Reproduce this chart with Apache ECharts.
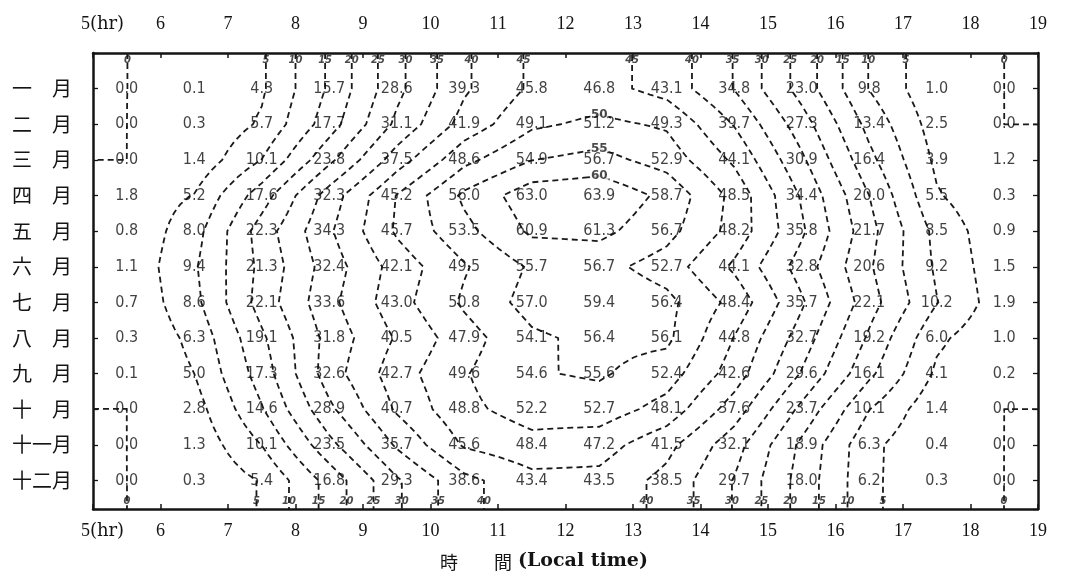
<!DOCTYPE html>
<html>
<head>
<meta charset="utf-8">
<script src="https://cdn.jsdelivr.net/npm/echarts@6/dist/echarts.min.js"></script>
<style>
html,body{margin:0;padding:0;background:#fff;}
#c{width:1075px;height:579px;}
</style>
</head>
<body>
<div id="c"></div>
<script>
// ---------------- data ----------------
const months = ['一\u3000月','二\u3000月','三\u3000月','四\u3000月','五\u3000月','六\u3000月',
                '七\u3000月','八\u3000月','九\u3000月','十\u3000月','十一月','十二月'];
const hourTicks = [5,6,7,8,9,10,11,12,13,14,15,16,17,18,19];
const hourMid = [5.5,6.5,7.5,8.5,9.5,10.5,11.5,12.5,13.5,14.5,15.5,16.5,17.5,18.5];
const m01 = [0.0,0.1,4.3,15.7,28.6,39.3,45.8,46.8,43.1,34.8,23.0,9.8,1.0,0.0];
const m02 = [0.0,0.3,5.7,17.7,31.1,41.9,49.1,51.2,49.3,39.7,27.3,13.4,2.5,0.0];
const m03 = [0.0,1.4,10.1,23.8,37.5,48.6,54.9,56.7,52.9,44.1,30.9,16.4,3.9,1.2];
const m04 = [1.8,5.2,17.6,32.3,45.2,56.0,63.0,63.9,58.7,48.5,34.4,20.0,5.5,0.3];
const m05 = [0.8,8.0,22.3,34.3,45.7,53.5,60.9,61.3,56.7,48.2,35.8,21.7,8.5,0.9];
const m06 = [1.1,9.4,21.3,32.4,42.1,49.5,55.7,56.7,52.7,44.1,32.8,20.6,9.2,1.5];
const m07 = [0.7,8.6,22.1,33.6,43.0,50.8,57.0,59.4,56.4,48.4,35.7,22.1,10.2,1.9];
const m08 = [0.3,6.3,19.1,31.8,40.5,47.9,54.1,56.4,56.1,44.8,32.7,19.2,6.0,1.0];
const m09 = [0.1,5.0,17.3,32.6,42.7,49.6,54.6,55.6,52.4,42.6,29.6,16.1,4.1,0.2];
const m10 = [0.0,2.8,14.6,28.9,40.7,48.8,52.2,52.7,48.1,37.6,23.7,10.1,1.4,0.0];
const m11 = [0.0,1.3,10.1,23.5,35.7,45.6,48.4,47.2,41.5,32.1,18.9,6.3,0.4,0.0];
const m12 = [0.0,0.3,5.4,16.8,29.3,38.6,43.4,43.5,38.5,29.7,18.0,6.2,0.3,0.0];
const contourLevels = [0,5,10,15,20,25,30,35,40,45,50,55,60];

// ---------------- derived ----------------
const rows = [m01,m02,m03,m04,m05,m06,m07,m08,m09,m10,m11,m12];
const Y_MIN = -1, Y_MAX = 11.8;   // y extent of plot (rows sit at 0..11)

// value labels
const valuePoints = [];
rows.forEach((row, i) => row.forEach((v, j) => valuePoints.push([hourMid[j], i, v])));

// padded grid (edge values carried to the frame)
const X = [hourTicks[0], ...hourMid, hourTicks[hourTicks.length - 1]];
const Y = [Y_MIN, ...rows.map((_, i) => i), Y_MAX];
const clamp = (v, a, b) => Math.min(Math.max(v, a), b);
const Z = Y.map((_, r) => X.map((_, c) => rows[clamp(r - 1, 0, rows.length - 1)][clamp(c - 1, 0, hourMid.length - 1)]));

// bilinear refinement for smoother contour paths
const S = 4;
function refine(A) {
  const out = [];
  for (let i = 0; i < A.length - 1; i++) for (let k = 0; k < S; k++) out.push(A[i] + (A[i + 1] - A[i]) * k / S);
  out.push(A[A.length - 1]);
  return out;
}
const FX = refine(X), FY = refine(Y);
const F = FY.map((_, R) => FX.map((_, C) => {
  const r = Math.min(Math.floor(R / S), Y.length - 2), c = Math.min(Math.floor(C / S), X.length - 2);
  const u = R / S - r, v = C / S - c;
  return Z[r][c] * (1 - u) * (1 - v) + Z[r][c + 1] * (1 - u) * v + Z[r + 1][c] * u * (1 - v) + Z[r + 1][c + 1] * u * v;
}));

function traceLevel(L) {
  const lv = L === 0 ? 0.001 : L;
  const pts = new Map(), nb = new Map();
  function ek(type, r, c) {
    const k = type + r + ',' + c;
    if (!pts.has(k)) {
      let a, b, xa, xb, ya, yb;
      if (type === 'h') { a = F[r][c]; b = F[r][c + 1]; xa = FX[c]; xb = FX[c + 1]; ya = yb = FY[r]; }
      else { a = F[r][c]; b = F[r + 1][c]; xa = xb = FX[c]; ya = FY[r]; yb = FY[r + 1]; }
      const t = (lv - a) / (b - a);
      pts.set(k, [xa + t * (xb - xa), ya + t * (yb - ya)]);
    }
    return k;
  }
  function link(a, b) {
    if (!nb.has(a)) nb.set(a, []);
    if (!nb.has(b)) nb.set(b, []);
    nb.get(a).push(b); nb.get(b).push(a);
  }
  for (let R = 0; R < FY.length - 1; R++) {
    for (let C = 0; C < FX.length - 1; C++) {
      const tl = F[R][C], tr = F[R][C + 1], br = F[R + 1][C + 1], bl = F[R + 1][C];
      const idx = (tl >= lv ? 8 : 0) | (tr >= lv ? 4 : 0) | (br >= lv ? 2 : 0) | (bl >= lv ? 1 : 0);
      if (idx === 0 || idx === 15) continue;
      const T = () => ek('h', R, C), B = () => ek('h', R + 1, C), Lf = () => ek('v', R, C), Rt = () => ek('v', R, C + 1);
      const center = (tl + tr + br + bl) / 4 >= lv;
      switch (idx) {
        case 1: case 14: link(Lf(), B()); break;
        case 2: case 13: link(B(), Rt()); break;
        case 3: case 12: link(Lf(), Rt()); break;
        case 4: case 11: link(T(), Rt()); break;
        case 6: case 9: link(T(), B()); break;
        case 7: case 8: link(Lf(), T()); break;
        case 5:
          if (center) { link(Lf(), T()); link(B(), Rt()); } else { link(Lf(), B()); link(T(), Rt()); }
          break;
        case 10:
          if (center) { link(T(), Rt()); link(Lf(), B()); } else { link(Lf(), T()); link(B(), Rt()); }
          break;
      }
    }
  }
  const seen = new Set(), out = [];
  function walk(start) {
    const path = [start]; seen.add(start); let cur = start;
    while (true) {
      const ns = nb.get(cur).filter(k => !seen.has(k));
      if (!ns.length) break;
      cur = ns[0]; seen.add(cur); path.push(cur);
    }
    return path.map(k => pts.get(k));
  }
  for (const [k, list] of nb) if (list.length === 1 && !seen.has(k)) out.push({ pts: walk(k), closed: false, level: L });
  for (const [k] of nb) if (!seen.has(k)) { const p = walk(k); p.push(p[0]); out.push({ pts: p, closed: true, level: L }); }
  return out;
}

const contourLines = [];
const topLabels = [], bottomLabels = [], loopLabels = [];
contourLevels.forEach(L => {
  traceLevel(L).forEach(pl => {
    contourLines.push({ coords: pl.pts });
    if (pl.closed) {
      let best = pl.pts[0];
      pl.pts.forEach(p => { if (p[1] < best[1]) best = p; });
      loopLabels.push([best[0], best[1], L]);
    } else {
      [pl.pts[0], pl.pts[pl.pts.length - 1]].forEach(p => {
        if (Math.abs(p[1] - Y_MIN) < 1e-6) topLabels.push([p[0], p[1], L]);
        else if (Math.abs(p[1] - Y_MAX) < 1e-6) bottomLabels.push([p[0], p[1], L]);
      });
    }
  });
});

// ---------------- chart ----------------
const ink = '#141414';
const xLabelFmt = v => v === hourTicks[0] ? '{a|' + v + '}{b|(hr)}' : String(v);
const xRich = {
  a: { fontFamily: 'Liberation Serif', fontSize: 18, color: ink, padding: [0, 0, 0, 19] },
  b: { fontFamily: 'DejaVu Serif', fontSize: 18, color: ink }
};
function xAxisCfg(pos, margin) {
  return {
    type: 'value', min: hourTicks[0], max: hourTicks[hourTicks.length - 1], interval: 1, position: pos,
    axisLine: { show: true, onZero: false, lineStyle: { color: ink, width: 2.5 } },
    axisTick: { show: true, inside: true, length: 5, lineStyle: { color: ink, width: 1.5 } },
    axisLabel: { show: true, margin: margin, formatter: xLabelFmt, rich: xRich,
                 fontFamily: 'Liberation Serif', fontSize: 18, color: ink },
    splitLine: { show: false }
  };
}
function yAxisCfg(pos, showLabel) {
  return {
    type: 'value', inverse: true, min: Y_MIN, max: Y_MAX, interval: 1, position: pos,
    axisLine: { show: true, onZero: false, lineStyle: { color: ink, width: 2.5 } },
    axisTick: { show: true, inside: true, length: 5, lineStyle: { color: ink, width: 1.3 } },
    axisLabel: {
      show: showLabel, margin: 21, fontFamily: 'Noto Sans CJK JP', fontSize: 20, color: ink,
      formatter: v => { const i = Math.round(v); return (Math.abs(v - i) < 1e-6 && i >= 0 && i < months.length) ? months[i] : ''; }
    },
    splitLine: { show: false }
  };
}

const chart = echarts.init(document.getElementById('c'), null, { renderer: 'canvas' });
chart.setOption({
  backgroundColor: '#ffffff',
  animation: false,
  grid: { left: 93, right: 37, top: 53, bottom: 70, containLabel: false },
  xAxis: [xAxisCfg('bottom', 13), xAxisCfg('top', 20)],
  yAxis: [yAxisCfg('left', true), yAxisCfg('right', false)],
  graphic: [
    { type: 'text', left: 440, top: 553, style: { text: '時\u3000\u3000間', font: '18px "Noto Sans CJK JP"', fill: ink } },
    { type: 'text', left: 518, top: 552, style: { text: '(Local time)', font: 'bold 19px "DejaVu Serif"', fill: ink } }
  ],
  series: [
    {
      type: 'lines', coordinateSystem: 'cartesian2d', polyline: true, silent: true, z: 2,
      lineStyle: { color: '#1a1a1a', width: 1.8, type: [6, 4], opacity: 1 },
      data: contourLines
    },
    {
      type: 'scatter', symbolSize: 1, silent: true, z: 5,
      itemStyle: { color: 'rgba(0,0,0,0)' },
      label: { show: true, position: 'inside', formatter: p => p.value[2].toFixed(1),
               fontFamily: '"DejaVu Sans Condensed", "DejaVu Sans"', fontSize: 16, color: '#111' },
      data: valuePoints
    },
    {
      type: 'scatter', symbolSize: 1, silent: true, z: 4,
      itemStyle: { color: 'rgba(0,0,0,0)' },
      label: { show: true, position: 'bottom', distance: 2, formatter: p => String(p.value[2]),
               fontFamily: 'DejaVu Sans', fontStyle: 'italic', fontWeight: 'bold', fontSize: 10, color: '#1a1a1a' },
      data: topLabels
    },
    {
      type: 'scatter', symbolSize: 1, silent: true, z: 4,
      itemStyle: { color: 'rgba(0,0,0,0)' },
      label: { show: true, position: 'top', distance: 2, formatter: p => String(p.value[2]),
               fontFamily: 'DejaVu Sans', fontStyle: 'italic', fontWeight: 'bold', fontSize: 10, color: '#1a1a1a' },
      data: bottomLabels
    },
    {
      type: 'scatter', symbolSize: 1, silent: true, z: 4,
      itemStyle: { color: 'rgba(0,0,0,0)' },
      label: { show: true, position: 'inside', formatter: p => String(p.value[2]),
               backgroundColor: '#fff', padding: [0, 1],
               fontFamily: 'DejaVu Sans', fontWeight: 'bold', fontSize: 12, color: '#1a1a1a' },
      data: loopLabels
    }
  ]
});
</script>
</body>
</html>
